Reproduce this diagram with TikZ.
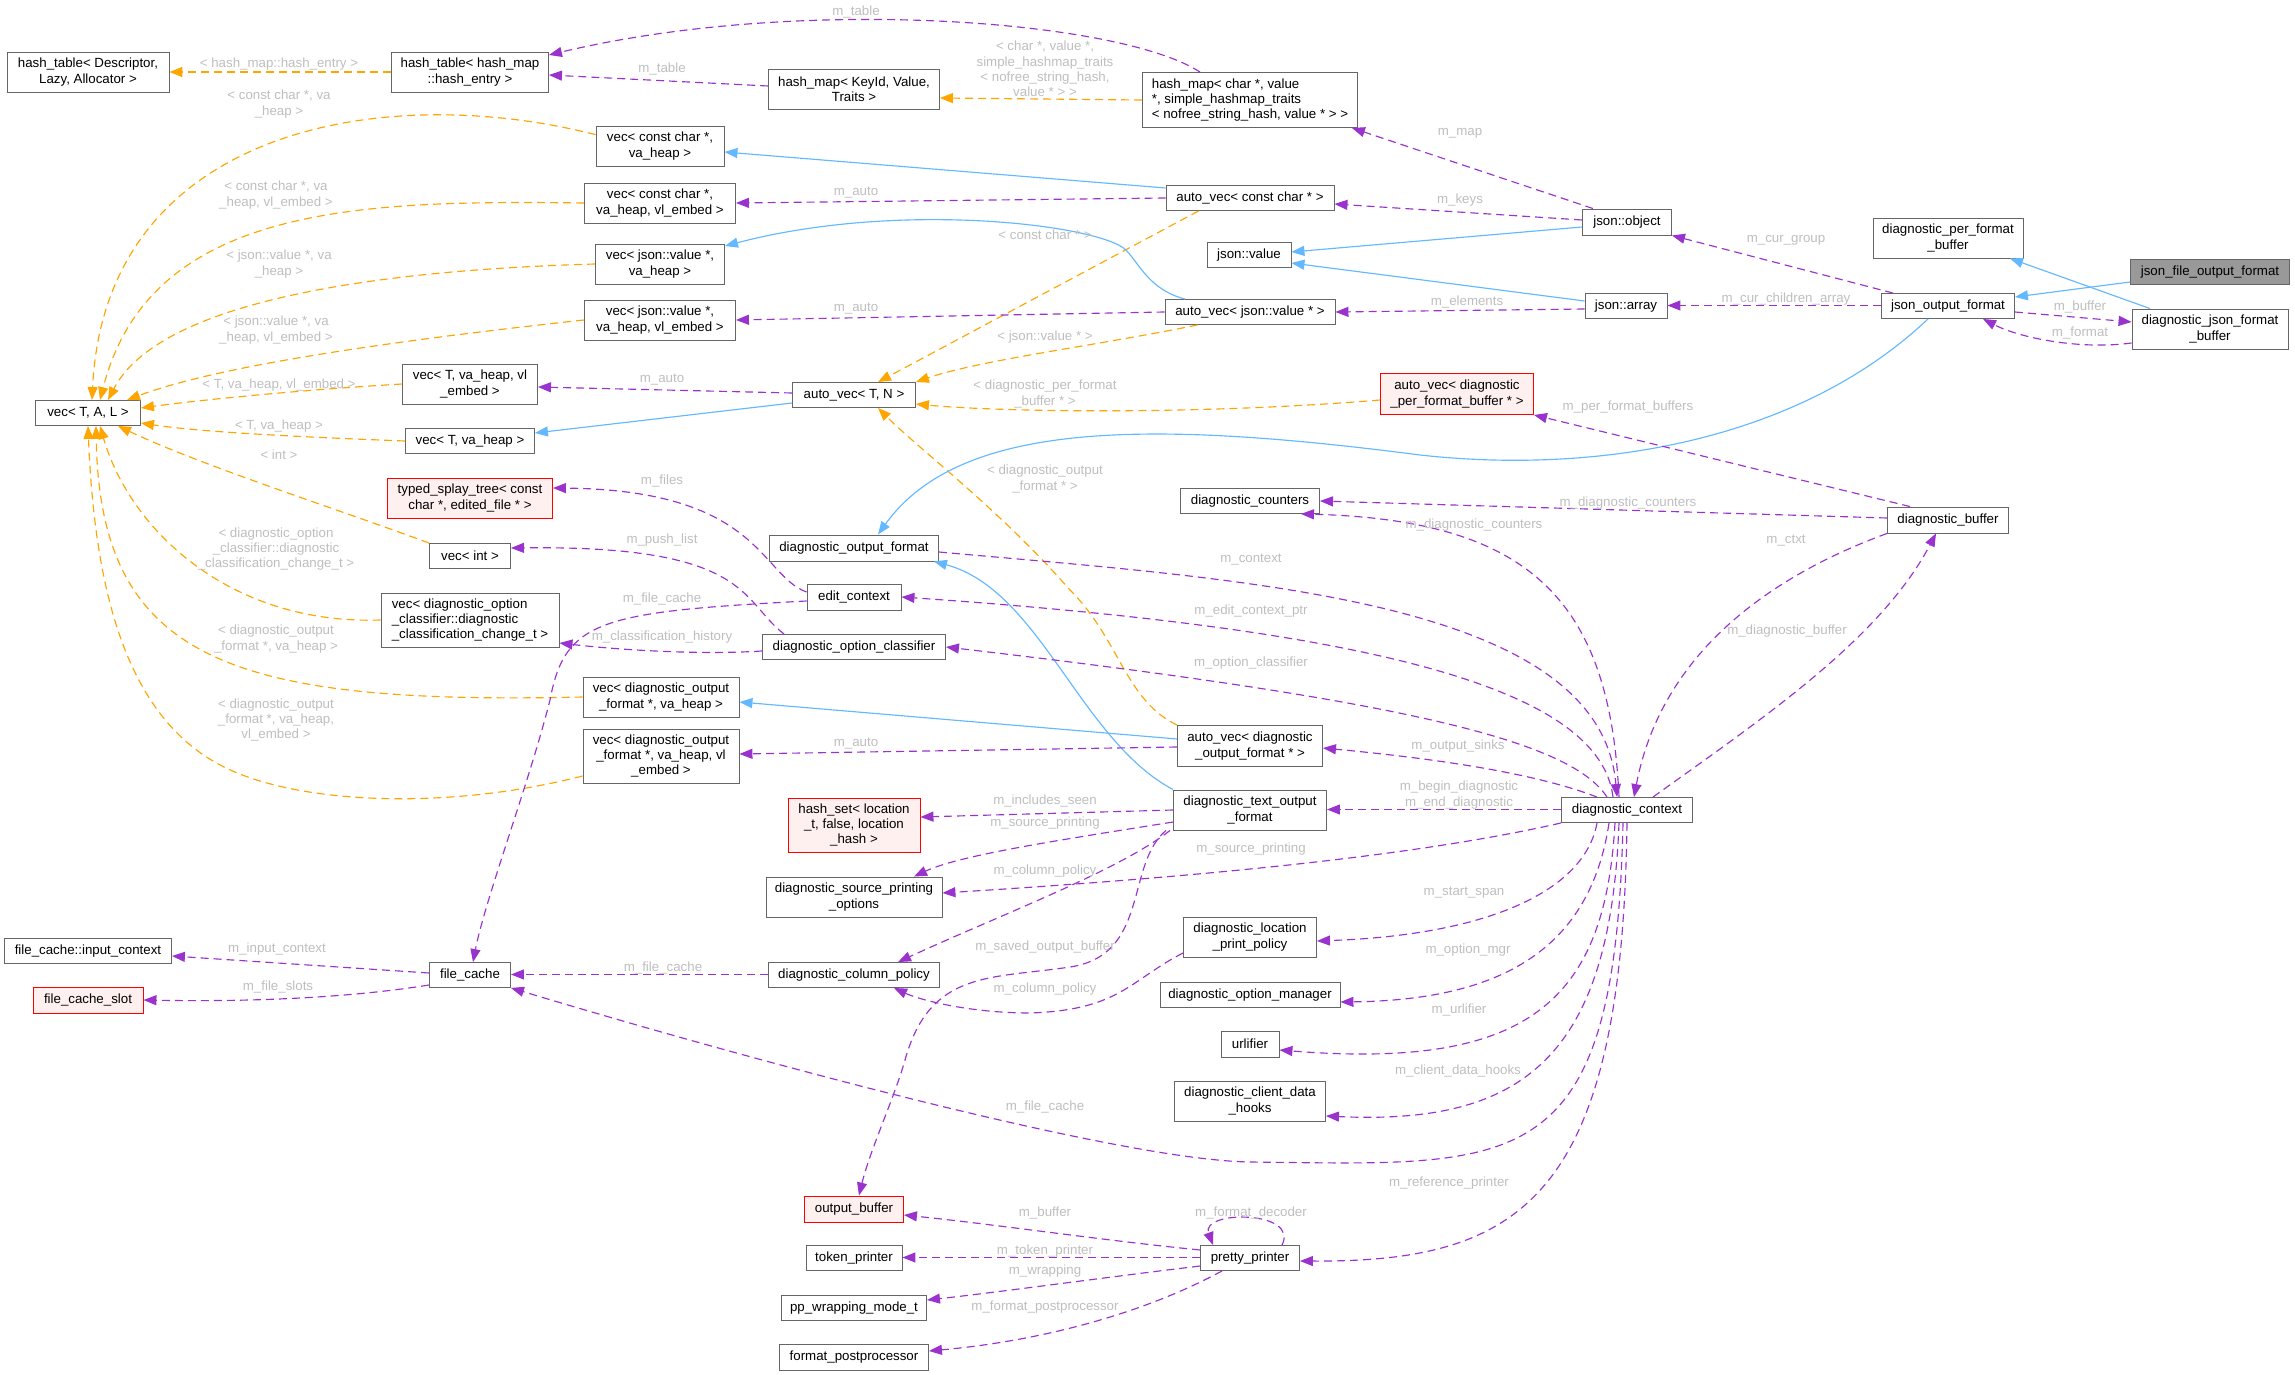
\documentclass[tikz,border=0pt]{standalone}
\usepackage{fontspec}
\setmainfont{Liberation Sans}
\usetikzlibrary{arrows.meta}
\definecolor{usecol}{HTML}{9A32CD}
\definecolor{instcol}{HTML}{FFA500}
\definecolor{inhcol}{HTML}{63B8FF}
\definecolor{bordercol}{HTML}{666666}
\definecolor{redfill}{HTML}{FFF0F0}
\definecolor{grayfill}{HTML}{999999}
\definecolor{lblcol}{HTML}{BEBEBE}
\newcommand\gfont{\fontsize{13.3pt}{15.3pt}\selectfont}
\tikzset{
 cls/.style={draw=bordercol, line width=0.9pt, fill=white, inner sep=2pt, font=\gfont, align=center, text=black},
 redcls/.style={cls, draw=red, fill=redfill},
 lbl/.style={font=\gfont, text=lblcol, inner sep=0pt, align=center},
 basearr/.style={line width=1.15pt, -{Triangle[length=13pt,width=10pt]}},
 usearr/.style={basearr, draw=usecol, dash pattern=on 8pt off 5pt},
 instarr/.style={basearr, draw=instcol, dash pattern=on 8pt off 5pt},
 inharr/.style={basearr, draw=inhcol},
}
\begin{document}
\begin{tikzpicture}[x=1pt,y=-1pt]
\useasboundingbox (0,0) rectangle (2295,1375);
% ---------- nodes ----------
\node[cls, minimum width=162pt, minimum height=40pt] (htd) at (88,72) {hash\_table< Descriptor,\\Lazy, Allocator >};
\node[cls, minimum width=157pt, minimum height=40pt] (hth) at (470,72) {hash\_table< hash\_map\\::hash\_entry >};
\node[cls, minimum width=171pt, minimum height=40pt] (hmk) at (854,89) {hash\_map< KeyId, Value,\\Traits >};
\node[cls, minimum width=215pt, minimum height=55pt, align=left] (hmc) at (1250,100) {hash\_map< char *, value\\ *, simple\_hashmap\_traits\\< nofree\_string\_hash, value * > >};
\node[cls, minimum width=128pt, minimum height=40pt] (vcch) at (660,146) {vec< const char *,\\va\_heap >};
\node[cls, minimum width=151pt, minimum height=40pt] (vcce) at (660,203) {vec< const char *,\\va\_heap, vl\_embed >};
\node[cls, minimum width=129pt, minimum height=40pt] (vjvh) at (660,264) {vec< json::value *,\\va\_heap >};
\node[cls, minimum width=151pt, minimum height=40pt] (vjve) at (660,320) {vec< json::value *,\\va\_heap, vl\_embed >};
\node[cls, minimum width=135pt, minimum height=40pt] (vte) at (470,384) {vec< T, va\_heap, vl\\\_embed >};
\node[cls, minimum width=105pt, minimum height=25pt] (vtal) at (88,413) {vec< T, A, L >};
\node[cls, minimum width=129pt, minimum height=25pt] (vth) at (470,441) {vec< T, va\_heap >};
\node[cls, minimum width=168pt, minimum height=25pt] (avcc) at (1250,198) {auto\_vec< const char * >};
\node[cls, minimum width=84pt, minimum height=25pt] (jval) at (1249,255) {json::value};
\node[cls, minimum width=170pt, minimum height=25pt] (avjv) at (1250,312) {auto\_vec< json::value * >};
\node[cls, minimum width=123pt, minimum height=25pt] (avtn) at (854,395) {auto\_vec< T, N >};
\node[redcls, minimum width=153pt, minimum height=41pt] (avpf) at (1457,394) {auto\_vec< diagnostic\\\_per\_format\_buffer * >};
\node[cls, minimum width=89pt, minimum height=26pt] (jobj) at (1627,222) {json::object};
\node[cls, minimum width=150pt, minimum height=40pt] (dpfb) at (1948,238) {diagnostic\_per\_format\\\_buffer};
\node[cls, fill=grayfill, minimum width=159pt, minimum height=25pt] (jfof) at (2210,272) {json\_file\_output\_format};
\node[cls, minimum width=82pt, minimum height=25pt] (jarr) at (1626,306) {json::array};
\node[cls, minimum width=133pt, minimum height=25pt] (jof) at (1948,306) {json\_output\_format};
\node[cls, minimum width=156pt, minimum height=40pt] (djfb) at (2210,329) {diagnostic\_json\_format\\\_buffer};
\node[redcls, minimum width=165pt, minimum height=40pt] (tst) at (470,498) {typed\_splay\_tree< const\\char *, edited\_file * >};
\node[cls, minimum width=81pt, minimum height=25pt] (vint) at (470,556) {vec< int >};
\node[cls, minimum width=178pt, minimum height=54pt, align=left] (vdoc) at (470,620) {vec< diagnostic\_option\\\_classifier::diagnostic\\\_classification\_change\_t >};
\node[cls, minimum width=156pt, minimum height=40pt] (vdofh) at (661,697) {vec< diagnostic\_output\\\_format *, va\_heap >};
\node[cls, minimum width=156pt, minimum height=54pt] (vdofe) at (661,756) {vec< diagnostic\_output\\\_format *, va\_heap, vl\\\_embed >};
\node[cls, minimum width=139pt, minimum height=25pt] (dcnt) at (1250,501) {diagnostic\_counters};
\node[cls, minimum width=169pt, minimum height=26pt] (dof) at (854,548) {diagnostic\_output\_format};
\node[cls, minimum width=94pt, minimum height=26pt] (ectx) at (854,597) {edit\_context};
\node[cls, minimum width=183pt, minimum height=25pt] (doc) at (854,647) {diagnostic\_option\_classifier};
\node[cls, minimum width=145pt, minimum height=41pt] (avdof) at (1250,746) {auto\_vec< diagnostic\\\_output\_format * >};
\node[cls, minimum width=153pt, minimum height=40pt] (dtof) at (1250,810) {diagnostic\_text\_output\\\_format};
\node[redcls, minimum width=132pt, minimum height=54pt] (hset) at (854,825) {hash\_set< location\\\_t, false, location\\\_hash >};
\node[cls, minimum width=121pt, minimum height=26pt] (dbuf) at (1948,520) {diagnostic\_buffer};
\node[cls, minimum width=131pt, minimum height=25pt] (dctx) at (1627,810) {diagnostic\_context};
\node[cls, minimum width=167pt, minimum height=25pt] (fcic) at (88,951) {file\_cache::input\_context};
\node[cls, minimum width=81pt, minimum height=25pt] (fc) at (470,975) {file\_cache};
\node[redcls, minimum width=110pt, minimum height=26pt] (fcs) at (88,1000) {file\_cache\_slot};
\node[cls, minimum width=176pt, minimum height=40pt] (dspo) at (854,897) {diagnostic\_source\_printing\\\_options};
\node[cls, minimum width=133pt, minimum height=40pt] (dlpp) at (1250,937) {diagnostic\_location\\\_print\_policy};
\node[cls, minimum width=171pt, minimum height=25pt] (dcp) at (854,975) {diagnostic\_column\_policy};
\node[cls, minimum width=180pt, minimum height=25pt] (dom) at (1250,995) {diagnostic\_option\_manager};
\node[cls, minimum width=58pt, minimum height=26pt] (url) at (1250,1044) {urlifier};
\node[cls, minimum width=151pt, minimum height=40pt] (dcdh) at (1250,1101) {diagnostic\_client\_data\\\_hooks};
\node[redcls, minimum width=99pt, minimum height=26pt] (obuf) at (854,1209) {output\_buffer};
\node[cls, minimum width=96pt, minimum height=25pt] (tokp) at (854,1258) {token\_printer};
\node[cls, minimum width=99pt, minimum height=25pt] (pp) at (1250,1258) {pretty\_printer};
\node[cls, minimum width=145pt, minimum height=25pt] (ppw) at (854,1308) {pp\_wrapping\_mode\_t};
\node[cls, minimum width=149pt, minimum height=26pt] (fpp) at (854,1357) {format\_postprocessor};

% ---------- template instantiation (orange) ----------
\draw[instarr] (hth.west) -- (htd.east);
\draw[instarr] (hmc.west) -- ([yshift=-9pt]hmk.east);
\draw[instarr] (vcch.170) .. controls (380,80) and (105,130) .. ([xshift=4pt]vtal.north);
\draw[instarr] (vcce.west) .. controls (360,200) and (150,205) .. ([xshift=12pt]vtal.north);
\draw[instarr] (vjvh.west) .. controls (380,270) and (160,300) .. ([xshift=20pt]vtal.north);
\draw[instarr] (vjve.west) .. controls (400,340) and (220,365) .. ([xshift=39pt]vtal.north);
\draw[instarr] (vte.west) .. controls (300,390) and (200,400) .. ([yshift=5pt]vtal.east);
\draw[instarr] (vth.west) .. controls (300,437) and (200,432) .. ([yshift=-10pt]vtal.east);
\draw[instarr] (vint.north west) .. controls (340,510) and (200,465) .. ([xshift=30pt]vtal.south);
\draw[instarr] (vdoc.west) .. controls (230,625) and (130,530) .. ([xshift=12pt]vtal.south);
\draw[instarr] (vdofh.west) .. controls (230,705) and (100,660) .. ([xshift=8pt]vtal.south);
\draw[instarr] ([yshift=-20pt]vdofe.west) .. controls (450,810) and (300,805) .. (224,767) .. controls (130,720) and (95,600) .. (vtal.south);
\draw[instarr] ([xshift=33pt]avcc.south west) -- ([xshift=24pt]avtn.north);
\draw[instarr] ([xshift=33pt]avjv.south west) .. controls (1100,345) and (980,360) .. (avtn.north east);
\draw[instarr] ([yshift=-6pt]avpf.west) .. controls (1200,415) and (1000,412) .. ([yshift=-9pt]avtn.east);
\draw[instarr] (avdof.north west) .. controls (1125,700) and (1120,640) .. (1070,590) .. controls (1000,510) and (920,450) .. ([xshift=24pt]avtn.south);

% ---------- inheritance (blue) ----------
\draw[inharr] ([yshift=10pt]avcc.west) -- ([yshift=-6pt]vcch.east);
\draw[inharr] ([xshift=-65pt]avjv.north) .. controls (1150,290) and (1140,265) .. (1126,250) .. controls (1100,225) and (900,200) .. ([yshift=18pt]vjvh.east);
\draw[inharr] ([yshift=-8pt]avtn.west) -- ([yshift=8pt]vth.east);
\draw[inharr] ([yshift=-5pt]jobj.west) -- ([yshift=3pt]jval.east);
\draw[inharr] ([yshift=5pt]jarr.west) -- ([yshift=-8pt]jval.east);
\draw[inharr] ([yshift=-10pt]jfof.west) -- ([yshift=9pt]jof.east);
\draw[inharr] ([xshift=-60pt]djfb.north) -- ([xshift=62pt]dpfb.south);
\draw[inharr] ([xshift=-20pt]jof.south) .. controls (1800,440) and (1600,475) .. (1420,455) .. controls (1150,420) and (960,420) .. ([xshift=24pt]dof.north);
\draw[inharr] (dtof.north west) .. controls (1080,740) and (1040,590) .. ([xshift=-5pt]dof.south east);
\draw[inharr] ([yshift=7pt]avdof.west) -- ([yshift=-5pt]vdofh.east);

% ---------- usage (purple) ----------
\draw[usearr] ([xshift=-50pt]hmc.north) .. controls (1120,20) and (800,-5) .. ([yshift=17pt]hth.east);
\draw[usearr] ([yshift=3pt]hmk.west) -- ([yshift=-3pt]hth.east);
\draw[usearr] ([xshift=-34pt]jobj.north) -- ([xshift=-6pt]hmc.south east);
\draw[usearr] ([yshift=2pt]jobj.west) -- ([yshift=-6pt]avcc.east);
\draw[usearr] (avcc.west) -- (vcce.east);
\draw[usearr] (avjv.west) -- (vjve.east);
\draw[usearr] ([yshift=-3pt]jarr.west) -- (avjv.east);
\draw[usearr] ([yshift=2pt]avtn.west) -- ([yshift=-3pt]vte.east);
\draw[usearr] ([xshift=-55pt]jof.north) -- (jobj.south east);
\draw[usearr] ([yshift=0.5pt]jof.west) -- ([yshift=0.5pt]jarr.east);
\draw[usearr] ([yshift=-6pt]jof.east) -- ([yshift=7pt]djfb.west);
\draw[usearr] ([yshift=-14pt]djfb.west) .. controls (2080,350) and (2020,338) .. ([xshift=35pt]jof.south);
\draw[usearr] ([xshift=-38pt]dbuf.north) -- (avpf.south east);
\draw[usearr] ([yshift=2pt]dbuf.west) -- (dcnt.east);
\draw[usearr] (dbuf.south west) .. controls (1760,580) and (1660,660) .. ([xshift=7pt]dctx.north);
\draw[usearr] ([xshift=26pt]dctx.north) .. controls (1760,720) and (1880,640) .. ([xshift=-12pt]dbuf.south);
\draw[usearr] ([xshift=-8pt]dctx.north) .. controls (1610,600) and (1530,520) .. ([xshift=-19pt]dcnt.south east);
\draw[usearr] ([yshift=-4pt]dof.east) .. controls (1250,580) and (1600,600) .. ([xshift=-10pt]dctx.north);
\draw[usearr] ([xshift=-14pt]dctx.north) .. controls (1600,690) and (1380,630) .. (ectx.east);
\draw[usearr] ([xshift=-20pt]dctx.north) .. controls (1570,740) and (1400,700) .. (doc.east);
\draw[usearr] ([xshift=-30pt]dctx.north) .. controls (1540,775) and (1450,760) .. ([yshift=-2pt]avdof.east);
\draw[usearr] ([yshift=0.5pt]dctx.west) -- ([yshift=0.5pt]dtof.east);
\draw[usearr] (dctx.south west) .. controls (1400,860) and (1150,880) .. ([yshift=4pt]dspo.east);
\draw[usearr] ([xshift=-30pt]dctx.south) .. controls (1585,890) and (1490,935) .. ([yshift=-4pt]dlpp.east);
\draw[usearr] ([xshift=-18pt]dctx.south) .. controls (1590,950) and (1500,1000) .. ([yshift=-7pt]dom.east);
\draw[usearr] ([xshift=-12pt]dctx.south) .. controls (1605,1000) and (1530,1070) .. ([yshift=-6pt]url.east);
\draw[usearr] ([xshift=-8pt]dctx.south) .. controls (1610,1060) and (1520,1125) .. ([yshift=-15pt]dcdh.east);
\draw[usearr] ([xshift=-4pt]dctx.south) .. controls (1615,1180) and (1520,1165) .. (1250,1162) .. controls (1120,1160) and (750,1060) .. (fc.south east);
\draw[usearr] (dctx.south) .. controls (1622,1200) and (1520,1262) .. ([yshift=-3pt]pp.east);
\draw[usearr] ([yshift=5pt]ectx.west) .. controls (760,575) and (760,490) .. ([yshift=10pt]tst.east);
\draw[usearr] ([yshift=-4pt]ectx.west) .. controls (600,612) and (565,620) .. (550,700) .. controls (530,780) and (485,900) .. ([xshift=3pt]fc.north);
\draw[usearr] ([xshift=22pt]doc.north west) .. controls (740,600) and (750,545) .. ([yshift=8pt]vint.east);
\draw[usearr] ([yshift=-4pt]doc.west) .. controls (700,655) and (620,650) .. ([yshift=-23pt]vdoc.east);
\draw[usearr] ([yshift=-1pt]avdof.west) -- ([yshift=2pt]vdofe.east);
\draw[usearr] (dtof.west) -- ([yshift=8pt]hset.east);
\draw[usearr] ([yshift=-12pt]dtof.west) .. controls (1060,840) and (960,855) .. ([xshift=60pt]dspo.north);
\draw[usearr] ([xshift=-80pt]dtof.south) .. controls (1120,870) and (1000,915) .. ([xshift=44pt]dcp.north);
\draw[usearr] ([xshift=-84pt]dtof.south) .. controls (1125,865) and (1150,955) .. (1070,967) .. controls (990,979) and (930,970) .. (905,1060) .. controls (895,1096) and (870,1150) .. ([xshift=5pt]obuf.north);
\draw[usearr] ([yshift=-16pt]dlpp.west) .. controls (1130,980) and (1120,1010) .. (1030,1013) .. controls (970,1013) and (920,1000) .. ([xshift=40pt]dcp.south);
\draw[usearr] ([yshift=0.5pt]dcp.west) -- ([yshift=0.5pt]fc.east);
\draw[usearr] ([yshift=2pt]fc.west) -- ([yshift=-5pt]fcic.east);
\draw[usearr] ([yshift=-10pt]fc.west) .. controls (348,998) and (249,1002) .. (fcs.east);
\draw[usearr] ([yshift=8pt]pp.west) .. controls (1100,1240) and (1000,1225) .. ([yshift=-6pt]obuf.east);
\draw[usearr] ([yshift=0.5pt]pp.west) -- ([yshift=0.5pt]tokp.east);
\draw[usearr] ([yshift=-8pt]pp.west) .. controls (1100,1278) and (1000,1292) .. ([yshift=8pt]ppw.east);
\draw[usearr] ([xshift=-28pt]pp.south) .. controls (1150,1310) and (1050,1340) .. ([yshift=6pt]fpp.east);
\draw[usearr] ([xshift=32pt]pp.north) .. controls (1300,1210) and (1200,1210) .. ([xshift=-37pt]pp.north);

% ---------- labels ----------
\node[lbl] (l1) at (279,64) {< hash\_map::hash\_entry >};
\node[lbl] (l2) at (856,12) {m\_table};
\node[lbl] (l3) at (662,69) {m\_table};
\node[lbl] (l4) at (1045,69) {< char *, value *,\\simple\_hashmap\_traits\\< nofree\_string\_hash,\\value * > >};
\node[lbl] (l5) at (1460,133) {m\_map};
\node[lbl] (l6) at (1460,200) {m\_keys};
\node[lbl] (l7) at (279,104) {< const char *, va\\\_heap >};
\node[lbl] (l8) at (276,195) {< const char *, va\\\_heap, vl\_embed >};
\node[lbl] (l9) at (279,264) {< json::value *, va\\\_heap >};
\node[lbl] (l10) at (276,330) {< json::value *, va\\\_heap, vl\_embed >};
\node[lbl] (l11) at (279,385) {< T, va\_heap, vl\_embed >};
\node[lbl] (l12) at (662,380) {m\_auto};
\node[lbl] (l13) at (279,426) {< T, va\_heap >};
\node[lbl] (l14) at (279,455) {< int >};
\node[lbl] (l15) at (856,193) {m\_auto};
\node[lbl] (l16) at (1045,235) {< const char * >};
\node[lbl] (l17) at (856,309) {m\_auto};
\node[lbl] (l18) at (1045,337) {< json::value * >};
\node[lbl] (l19) at (1045,394) {< diagnostic\_per\_format\\\_buffer * >};
\node[lbl] (l20) at (1467,302) {m\_elements};
\node[lbl] (l21) at (1786,240) {m\_cur\_group};
\node[lbl] (l22) at (1786,299) {m\_cur\_children\_array};
\node[lbl] (l23) at (2080,307) {m\_buffer};
\node[lbl] (l24) at (2080,333) {m\_format};
\node[lbl] (l25) at (1628,407) {m\_per\_format\_buffers};
\node[lbl] (l26) at (662,481) {m\_files};
\node[lbl] (l27) at (1045,479) {< diagnostic\_output\\\_format * >};
\node[lbl] (l28) at (1628,503) {m\_diagnostic\_counters};
\node[lbl] (l29) at (1474,525) {m\_diagnostic\_counters};
\node[lbl] (l30) at (662,540) {m\_push\_list};
\node[lbl] (l31) at (1786,541) {m\_ctxt};
\node[lbl] (l32) at (276,549) {< diagnostic\_option\\\_classifier::diagnostic\\\_classification\_change\_t >};
\node[lbl] (l33) at (1251,560) {m\_context};
\node[lbl] (l34) at (662,599) {m\_file\_cache};
\node[lbl] (l35) at (1251,611) {m\_edit\_context\_ptr};
\node[lbl] (l36) at (1787,631) {m\_diagnostic\_buffer};
\node[lbl] (l37) at (662,637) {m\_classification\_history};
\node[lbl] (l38) at (276,639) {< diagnostic\_output\\\_format *, va\_heap >};
\node[lbl] (l39) at (1251,663) {m\_option\_classifier};
\node[lbl] (l40) at (276,720) {< diagnostic\_output\\\_format *, va\_heap,\\vl\_embed >};
\node[lbl] (l41) at (856,744) {m\_auto};
\node[lbl] (l42) at (1458,746) {m\_output\_sinks};
\node[lbl] (l43) at (1459,795) {m\_begin\_diagnostic\\m\_end\_diagnostic};
\node[lbl] (l44) at (1045,801) {m\_includes\_seen};
\node[lbl] (l45) at (1045,823) {m\_source\_printing};
\node[lbl] (l46) at (1251,849) {m\_source\_printing};
\node[lbl] (l47) at (1045,871) {m\_column\_policy};
\node[lbl] (l48) at (1464,893) {m\_start\_span};
\node[lbl] (l49) at (1045,947) {m\_saved\_output\_buffer};
\node[lbl] (l50) at (277,949) {m\_input\_context};
\node[lbl] (l51) at (1468,950) {m\_option\_mgr};
\node[lbl] (l52) at (663,968) {m\_file\_cache};
\node[lbl] (l53) at (278,987) {m\_file\_slots};
\node[lbl] (l54) at (1045,989) {m\_column\_policy};
\node[lbl] (l55) at (1459,1010) {m\_urlifier};
\node[lbl] (l56) at (1458,1071) {m\_client\_data\_hooks};
\node[lbl] (l57) at (1045,1107) {m\_file\_cache};
\node[lbl] (l58) at (1449,1183) {m\_reference\_printer};
\node[lbl] (l59) at (1045,1213) {m\_buffer};
\node[lbl] (l60) at (1251,1213) {m\_format\_decoder};
\node[lbl] (l61) at (1045,1251) {m\_token\_printer};
\node[lbl] (l62) at (1045,1271) {m\_wrapping};
\node[lbl] (l63) at (1045,1307) {m\_format\_postprocessor};
\end{tikzpicture}
\end{document}
